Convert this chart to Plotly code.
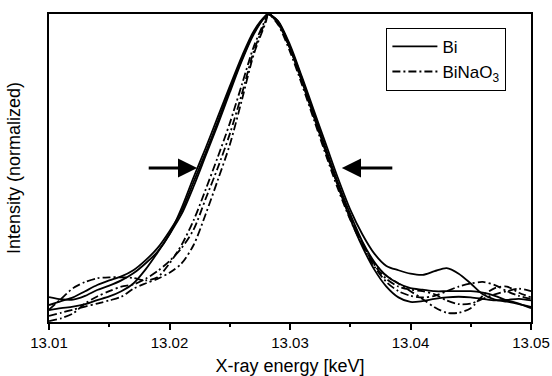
import plotly.graph_objects as go

# X-ray energy grid [keV]
energy = [13.010, 13.011, 13.012, 13.013, 13.014, 13.015, 13.016, 13.017, 13.018, 13.019,
          13.020, 13.021, 13.022, 13.023, 13.024, 13.025, 13.026, 13.027, 13.028, 13.0282,
          13.029, 13.030, 13.031, 13.032, 13.033, 13.034, 13.035, 13.036, 13.037, 13.038,
          13.039, 13.040, 13.041, 13.042, 13.043, 13.044, 13.045, 13.046, 13.047, 13.048,
          13.049, 13.050]

# Bi (solid) spectra, normalized intensity
bi_1 = [0.081, 0.074, 0.073, 0.085, 0.104, 0.118, 0.135, 0.158, 0.190, 0.228,
        0.285, 0.370, 0.470, 0.565, 0.665, 0.765, 0.862, 0.945, 0.995, 1.000,
        0.978, 0.900, 0.795, 0.685, 0.575, 0.465, 0.365, 0.285, 0.222, 0.182,
        0.168, 0.157, 0.153, 0.165, 0.175, 0.157, 0.125, 0.090, 0.073, 0.066,
        0.058, 0.049]
bi_2 = [0.039, 0.045, 0.050, 0.058, 0.071, 0.083, 0.100, 0.125, 0.170, 0.225,
        0.285, 0.350, 0.440, 0.540, 0.640, 0.745, 0.848, 0.935, 0.994, 1.000,
        0.972, 0.888, 0.780, 0.665, 0.550, 0.440, 0.335, 0.245, 0.170, 0.115,
        0.080, 0.065, 0.068, 0.075, 0.080, 0.082, 0.080, 0.075, 0.070, 0.072,
        0.075, 0.070]
bi_3 = [0.055, 0.068, 0.080, 0.100, 0.120, 0.135, 0.148, 0.168, 0.200, 0.240,
        0.295, 0.360, 0.455, 0.550, 0.650, 0.755, 0.852, 0.940, 0.995, 1.000,
        0.976, 0.893, 0.790, 0.675, 0.560, 0.450, 0.350, 0.262, 0.195, 0.150,
        0.125, 0.110, 0.105, 0.100, 0.100, 0.100, 0.100, 0.095, 0.085, 0.070,
        0.060, 0.045]

# BiNaO3 (dash-dot) spectra, normalized intensity
binao3_1 = [0.003, 0.012, 0.028, 0.060, 0.083, 0.100, 0.115, 0.122, 0.140, 0.165,
            0.198, 0.240, 0.300, 0.400, 0.500, 0.610, 0.740, 0.880, 0.980, 1.000,
            0.970, 0.888, 0.780, 0.665, 0.550, 0.440, 0.340, 0.255, 0.190, 0.150,
            0.125, 0.100, 0.075, 0.048, 0.030, 0.030, 0.045, 0.085, 0.110, 0.115,
            0.095, 0.080]
binao3_2 = [0.040, 0.075, 0.110, 0.130, 0.142, 0.145, 0.145, 0.143, 0.135, 0.145,
            0.190, 0.250, 0.330, 0.430, 0.535, 0.645, 0.770, 0.895, 0.985, 1.000,
            0.966, 0.878, 0.770, 0.655, 0.540, 0.430, 0.332, 0.250, 0.180, 0.130,
            0.100, 0.085, 0.080, 0.085, 0.100, 0.115, 0.125, 0.130, 0.120, 0.100,
            0.085, 0.075]
binao3_3 = [0.020, 0.030, 0.040, 0.050, 0.060, 0.070, 0.082, 0.108, 0.125, 0.140,
            0.160, 0.190, 0.250, 0.350, 0.460, 0.575, 0.720, 0.870, 0.975, 1.000,
            0.975, 0.893, 0.785, 0.670, 0.555, 0.445, 0.345, 0.258, 0.185, 0.140,
            0.115, 0.105, 0.100, 0.090, 0.070, 0.058, 0.060, 0.075, 0.090, 0.100,
            0.108, 0.100]

# FWHM arrow tips (energy) and level
arrow_tips = [13.0223, 13.0343]
arrow_level = 0.5
arrow_tail_px = [-50, 52]

x_ticks = [13.01, 13.02, 13.03, 13.04, 13.05]

FONT = "Liberation Sans, Arial, sans-serif"
DASHDOT = "8px,3px,2px,3px"
LW = 1.8

fig = go.Figure()
for i, ys in enumerate([bi_1, bi_2, bi_3]):
    fig.add_trace(go.Scatter(x=energy, y=ys, mode="lines", name="Bi",
                             legendgroup="bi", showlegend=(i == 0),
                             line=dict(color="black", width=LW, shape="spline", smoothing=0.8)))
for i, ys in enumerate([binao3_1, binao3_2, binao3_3]):
    fig.add_trace(go.Scatter(x=energy, y=ys, mode="lines", name="BiNaO<sub>3</sub>",
                             legendgroup="binao3", showlegend=(i == 0),
                             line=dict(color="black", width=LW, dash=DASHDOT,
                                       shape="spline", smoothing=0.8)))

for tip, ax in zip(arrow_tips, arrow_tail_px):
    fig.add_annotation(x=tip, y=arrow_level, xref="x", yref="y", ax=ax, ay=0,
                       axref="pixel", ayref="pixel", showarrow=True, text="",
                       arrowhead=2, arrowsize=1.2, arrowwidth=3.2, arrowcolor="black")

fig.update_layout(
    width=552, height=376,
    margin=dict(l=49, r=21, t=14, b=54),
    paper_bgcolor="white", plot_bgcolor="white",
    font=dict(family=FONT, size=15, color="black"),
    showlegend=True,
    legend=dict(x=0.70, y=0.955, xanchor="left", yanchor="top",
                bordercolor="black", borderwidth=1, bgcolor="white",
                font=dict(size=17, family=FONT), tracegroupgap=0,
                itemwidth=45),
)
fig.update_xaxes(range=[13.01, 13.05], tickvals=x_ticks,
                 ticktext=[f"{v:.2f}" for v in x_ticks],
                 ticks="outside", ticklen=6, tickwidth=1.5, tickcolor="black",
                 minor=dict(dtick=0.005, tick0=13.01, ticks="outside", ticklen=3,
                            tickwidth=1.5, tickcolor="black", showgrid=False),
                 showline=True, linewidth=1.5, linecolor="black", mirror=True,
                 showgrid=False, zeroline=False, automargin=False,
                 title=dict(text="X-ray energy [keV]", font=dict(size=18), standoff=10),
                 tickfont=dict(size=15))
fig.update_yaxes(range=[0, 1.0], showticklabels=False, ticks="",
                 showline=True, linewidth=1.5, linecolor="black", mirror=True,
                 showgrid=False, zeroline=False, automargin=False,
                 title=dict(text="Intensity (normalized)", font=dict(size=18), standoff=22))

fig.write_html("out.html")
